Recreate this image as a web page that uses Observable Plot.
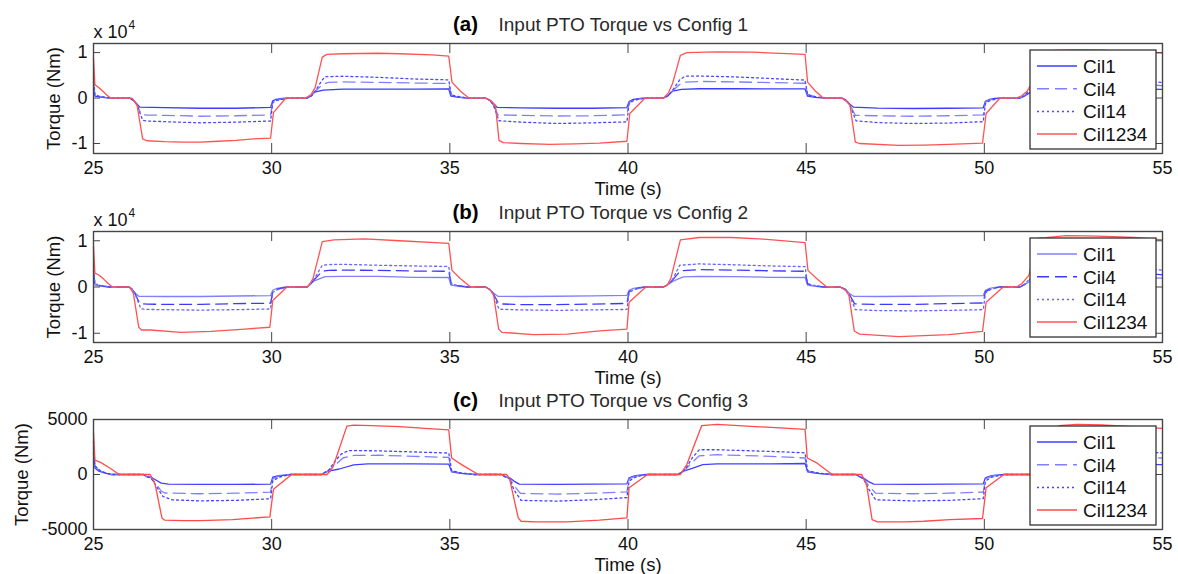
<!DOCTYPE html>
<html>
<head>
<meta charset="utf-8">
<script src="https://cdn.jsdelivr.net/npm/d3@7"></script>
<script src="https://cdn.jsdelivr.net/npm/@observablehq/plot@0.6"></script>
<style>
  body { margin: 0; background: #fff; }
  #chart { position: relative; width: 1178px; height: 574px; font-family: "Liberation Sans", Arial, sans-serif; }
  #chart svg { position: absolute; left: 0; overflow: visible; }
</style>
</head>
<body>
<div id="chart"></div>
<script>
// Time ticks (s) and series names
const timeTicks = [25, 30, 35, 40, 45, 50, 55];
const seriesNames = ["Cil1", "Cil4", "Cil14", "Cil1234"];

// ---- Config 1: [time s, torque Nm] ----
const a_cil1 = [
  [25.0,2000],[25.04,400],[25.15,250],[25.3,100],[25.48,0],
  [26.0,0],[26.12,-500],[26.22,-1300],[26.3,-2000],[27.0,-2100],[28.0,-2250],[29.0,-2250],[29.97,-2050],
  [30.03,-600],[30.12,-300],[30.3,-100],[30.45,0],
  [31.0,0],[31.1,400],[31.2,1300],[31.45,1750],[32.0,1950],[33.0,1950],[34.0,1950],[34.97,2000],
  [35.03,400],[35.25,150],[35.5,0],
  [36.0,0],[36.12,-500],[36.22,-1300],[36.33,-2050],[37.0,-2150],[38.0,-2250],[39.0,-2250],[39.97,-2100],
  [40.03,-800],[40.15,-300],[40.35,-100],[40.5,0],
  [41.0,0],[41.12,500],[41.25,1500],[41.5,1900],[42.0,2050],[43.0,2050],[44.0,2000],[44.97,2000],
  [45.04,400],[45.25,150],[45.5,0],
  [46.0,0],[46.12,-500],[46.22,-1300],[46.33,-2000],[47.0,-2200],[48.0,-2300],[49.0,-2250],[49.97,-2150],
  [50.03,-700],[50.15,-300],[50.3,-100],[50.45,0],
  [51.0,0],[51.1,300],[51.3,1300],[51.6,1800],[52.0,2000],[54.0,2000],[55.0,1900]
];
const a_cil4 = [
  [25.0,3500],[25.04,600],[25.2,300],[25.48,0],
  [26.0,0],[26.12,-500],[26.22,-1500],[26.34,-3600],[26.5,-3750],[27.0,-3800],[28.0,-4000],[29.0,-3900],[29.97,-3700],
  [30.03,-900],[30.15,-400],[30.35,-100],[30.5,0],
  [31.0,0],[31.12,500],[31.22,1500],[31.45,3100],[31.6,3450],[32.0,3550],[33.0,3450],[34.0,3300],[34.97,3200],
  [35.04,700],[35.2,300],[35.5,0],
  [36.0,0],[36.12,-500],[36.22,-1400],[36.35,-3700],[37.0,-3800],[38.0,-3950],[39.0,-3900],[39.97,-3700],
  [40.03,-1000],[40.15,-500],[40.35,-150],[40.5,0],
  [41.0,0],[41.12,500],[41.25,1600],[41.45,3000],[41.6,3500],[42.0,3650],[43.0,3550],[44.0,3400],[44.97,3250],
  [45.04,800],[45.2,400],[45.5,0],
  [46.0,0],[46.12,-500],[46.22,-1400],[46.38,-3800],[47.0,-3900],[48.0,-4000],[49.0,-3900],[49.97,-3700],
  [50.03,-900],[50.15,-400],[50.35,-100],[50.45,0],
  [51.0,0],[51.12,500],[51.3,1800],[51.6,3200],[52.0,3500],[54.0,3300],[55.0,2700]
];
const a_cil14 = [
  [25.0,4500],[25.04,700],[25.2,300],[25.48,0],
  [26.0,0],[26.12,-500],[26.22,-1500],[26.38,-4900],[26.5,-5050],[27.0,-5200],[28.0,-5450],[29.0,-5300],[29.97,-5050],
  [30.03,-1000],[30.15,-500],[30.35,-200],[30.5,0],
  [31.0,0],[31.12,500],[31.22,1500],[31.42,4000],[31.5,4700],[32.0,4800],[33.0,4550],[34.0,4200],[34.97,4000],
  [35.04,700],[35.2,400],[35.5,0],
  [36.0,0],[36.12,-500],[36.22,-1500],[36.38,-5000],[37.0,-5300],[38.0,-5600],[39.0,-5450],[39.97,-5250],
  [40.03,-1200],[40.15,-600],[40.35,-200],[40.5,0],
  [41.0,0],[41.12,500],[41.25,1700],[41.45,4000],[41.6,4800],[42.0,4850],[43.0,4650],[44.0,4300],[44.97,3950],
  [45.04,700],[45.2,400],[45.5,0],
  [46.0,0],[46.12,-500],[46.22,-1500],[46.4,-5000],[47.0,-5400],[48.0,-5600],[49.0,-5500],[49.97,-5200],
  [50.03,-1200],[50.15,-600],[50.35,-200],[50.45,0],
  [51.0,0],[51.12,500],[51.3,2000],[51.6,4500],[52.0,4800],[54.0,4300],[55.0,3400]
];
const a_cil1234 = [
  [25.0,8700],[25.04,2900],[25.12,2500],[25.25,1600],[25.38,600],[25.48,0],
  [26.08,0],[26.13,-500],[26.22,-1500],[26.38,-9000],[26.5,-9400],[27.0,-9600],[27.5,-9700],[28.0,-9700],[28.5,-9500],[29.0,-9300],[29.5,-9000],[29.97,-8800],
  [30.05,-3200],[30.4,0],
  [30.95,0],[31.1,700],[31.22,2300],[31.42,9000],[31.55,9600],[32.0,9750],[33.0,9850],[33.6,9750],[34.5,9500],[34.97,9200],
  [35.06,3500],[35.3,1500],[35.53,0],
  [36.0,0],[36.14,-500],[36.28,-1600],[36.38,-9300],[36.5,-9800],[37.0,-10000],[37.8,-10200],[38.5,-10100],[39.2,-9900],[39.97,-9500],
  [40.05,-3400],[40.48,0],
  [41.0,0],[41.14,1200],[41.25,3200],[41.47,9400],[41.65,10000],[42.5,10150],[43.5,10100],[44.1,9900],[44.97,9600],
  [45.04,3500],[45.25,1600],[45.48,0],
  [46.0,0],[46.14,-800],[46.23,-1600],[46.38,-9700],[46.5,-10000],[47.6,-10400],[48.3,-10350],[49.0,-10200],[49.95,-9900],
  [50.05,-3400],[50.44,0],
  [50.9,0],[51.05,500],[51.2,1500],[51.32,3200],[51.5,9400],[51.7,10200],[52.0,10500],[52.6,10600],[53.3,10550],[53.5,10450],[54.5,10100],[55.0,9900]
];

// ---- Config 2 ----
const b_cil1 = [
  [25.0,2500],[25.04,400],[25.15,250],[25.3,100],[25.45,0],
  [26.0,0],[26.08,-400],[26.15,-1200],[26.27,-2000],[27.0,-2050],[28.0,-2050],[29.0,-1950],[29.97,-1850],
  [30.03,-700],[30.15,-300],[30.3,-100],[30.43,0],
  [31.0,0],[31.08,500],[31.16,1200],[31.5,2250],[32.0,2300],[33.0,2300],[34.0,2100],[34.97,2050],
  [35.03,400],[35.25,150],[35.5,0],
  [36.0,0],[36.12,-500],[36.22,-1300],[36.35,-2000],[37.0,-2050],[38.0,-2000],[39.0,-1900],[39.97,-1800],
  [40.03,-700],[40.15,-300],[40.35,-100],[40.5,0],
  [41.0,0],[41.12,500],[41.25,1200],[41.55,2200],[42.0,2300],[43.0,2250],[44.0,2100],[44.97,2050],
  [45.04,400],[45.25,150],[45.5,0],
  [45.95,0],[46.1,-500],[46.2,-1300],[46.33,-2000],[47.0,-2050],[48.0,-2000],[49.0,-1900],[49.97,-1850],
  [50.03,-700],[50.15,-300],[50.3,-100],[50.45,0],
  [51.0,0],[51.1,400],[51.3,1300],[51.6,2200],[52.0,2300],[54.0,2200],[55.0,1900]
];
const b_cil4 = [
  [25.0,3500],[25.04,600],[25.2,300],[25.45,0],
  [26.0,0],[26.08,-400],[26.15,-1200],[26.3,-3600],[26.5,-3700],[27.0,-3750],[28.0,-3750],[29.0,-3600],[29.97,-3500],
  [30.03,-1000],[30.15,-500],[30.35,-150],[30.45,0],
  [31.0,0],[31.08,500],[31.16,1300],[31.42,3400],[31.6,3600],[32.0,3650],[33.0,3600],[34.0,3450],[34.97,3400],
  [35.04,700],[35.2,300],[35.5,0],
  [36.0,0],[36.12,-500],[36.22,-1400],[36.37,-3650],[37.0,-3800],[38.0,-3800],[39.0,-3700],[39.97,-3550],
  [40.03,-1000],[40.15,-500],[40.35,-150],[40.5,0],
  [41.0,0],[41.12,500],[41.25,1500],[41.47,3500],[42.0,3750],[43.0,3650],[44.0,3500],[44.97,3400],
  [45.04,700],[45.2,300],[45.5,0],
  [45.95,0],[46.1,-500],[46.2,-1400],[46.36,-3650],[47.0,-3750],[48.0,-3750],[49.0,-3600],[49.97,-3450],
  [50.03,-1000],[50.15,-500],[50.35,-150],[50.45,0],
  [51.0,0],[51.12,500],[51.3,1800],[51.6,3400],[52.0,3600],[54.0,3400],[55.0,2600]
];
const b_cil14 = [
  [25.0,4800],[25.04,700],[25.2,300],[25.45,0],
  [26.0,0],[26.08,-400],[26.15,-1200],[26.33,-4700],[26.5,-4850],[27.0,-4900],[28.0,-5000],[29.0,-4900],[29.97,-4750],
  [30.03,-1200],[30.15,-600],[30.35,-200],[30.45,0],
  [31.0,0],[31.08,500],[31.16,1300],[31.42,4700],[31.6,4850],[32.0,4900],[33.0,4700],[34.0,4550],[34.97,4450],
  [35.04,700],[35.2,400],[35.5,0],
  [36.0,0],[36.12,-500],[36.22,-1500],[36.38,-4800],[37.0,-4950],[38.0,-5050],[39.0,-4950],[39.97,-4850],
  [40.03,-1300],[40.15,-600],[40.35,-200],[40.5,0],
  [41.0,0],[41.12,500],[41.25,1600],[41.45,4700],[42.0,5000],[43.0,4800],[44.0,4550],[44.97,4400],
  [45.04,700],[45.2,400],[45.5,0],
  [45.95,0],[46.1,-500],[46.2,-1500],[46.38,-4900],[47.0,-5100],[48.0,-5150],[49.0,-5050],[49.97,-4900],
  [50.03,-1300],[50.15,-600],[50.35,-200],[50.45,0],
  [51.0,0],[51.12,500],[51.3,2000],[51.6,4600],[52.0,4900],[54.0,4600],[55.0,3600]
];
const b_cil1234 = [
  [25.0,8700],[25.04,3000],[25.15,2600],[25.3,1600],[25.42,700],[25.53,0],
  [26.0,0],[26.07,-700],[26.12,-1450],[26.27,-8700],[26.35,-9300],[26.6,-9300],[27.45,-9800],[28.3,-9600],[29.25,-9100],[29.95,-8700],
  [30.03,-2900],[30.43,0],
  [31.0,0],[31.07,700],[31.16,1800],[31.42,9800],[31.75,10200],[32.6,10400],[33.6,10000],[34.97,9450],
  [35.06,3600],[35.3,1800],[35.58,0],
  [36.0,0],[36.14,-700],[36.23,-1800],[36.37,-9100],[36.46,-9800],[37.35,-10300],[38.3,-10200],[39.2,-9500],[39.97,-9100],
  [40.03,-3300],[40.5,0],
  [41.0,0],[41.1,400],[41.2,1800],[41.47,10200],[42.0,10700],[42.9,10700],[43.9,10300],[44.97,9600],
  [45.05,3600],[45.3,1800],[45.58,0],
  [45.95,0],[46.1,-700],[46.2,-1800],[46.35,-9500],[46.5,-10200],[47.6,-10750],[49.0,-10300],[49.95,-9600],
  [50.05,-3300],[50.53,0],
  [50.9,0],[51.05,700],[51.25,2500],[51.5,10500],[52.3,11100],[53.2,11000],[54.2,10700],[55.0,10200]
];

// ---- Config 3 ----
const c_cil1 = [
  [25.0,2000],[25.04,600],[25.15,300],[25.3,150],[25.5,0],
  [26.4,0],[26.5,-200],[26.62,-250],[26.75,-500],[26.9,-780],[27.1,-880],[28.0,-900],[29.0,-900],[29.97,-880],
  [30.03,-250],[30.2,-100],[30.56,0],
  [31.4,0],[31.5,200],[31.6,300],[31.9,500],[32.3,880],[32.7,970],[34.0,970],[34.97,950],
  [35.05,250],[35.3,100],[35.7,0],
  [36.45,0],[36.55,-200],[36.68,-300],[36.8,-600],[36.95,-880],[38.0,-900],[39.0,-880],[39.97,-850],
  [40.03,-300],[40.2,-100],[40.55,0],
  [41.4,0],[41.5,200],[41.56,300],[41.8,550],[42.1,900],[42.5,970],[44.0,970],[44.97,1000],
  [45.04,250],[45.3,100],[45.7,0],
  [46.4,0],[46.5,-200],[46.6,-300],[46.75,-650],[46.9,-880],[48.0,-900],[49.0,-880],[49.97,-850],
  [50.03,-300],[50.2,-100],[50.55,0],
  [51.4,0],[51.5,200],[51.7,450],[52.2,900],[52.6,970],[55.0,900]
];
const c_cil4 = [
  [25.0,2500],[25.04,700],[25.2,300],[25.5,0],
  [26.4,0],[26.5,-200],[26.62,-300],[26.75,-800],[26.9,-1500],[27.0,-1680],[28.0,-1750],[29.0,-1700],[29.97,-1600],
  [30.03,-400],[30.2,-150],[30.56,0],
  [31.4,0],[31.5,200],[31.6,350],[31.8,900],[32.0,1500],[32.3,1730],[33.0,1750],[34.0,1650],[34.97,1550],
  [35.05,300],[35.3,150],[35.7,0],
  [36.45,0],[36.55,-200],[36.68,-350],[36.8,-1000],[36.98,-1720],[38.0,-1780],[39.0,-1700],[39.97,-1580],
  [40.03,-400],[40.2,-150],[40.55,0],
  [41.4,0],[41.5,200],[41.6,400],[41.8,1100],[42.0,1700],[42.5,1800],[44.0,1650],[44.97,1500],
  [45.04,300],[45.3,150],[45.7,0],
  [46.4,0],[46.5,-200],[46.62,-400],[46.75,-1000],[46.95,-1700],[48.0,-1750],[49.0,-1700],[49.97,-1600],
  [50.03,-400],[50.2,-150],[50.55,0],
  [51.4,0],[51.5,200],[51.8,1000],[52.1,1700],[52.6,1750],[55.0,1500]
];
const c_cil14 = [
  [25.0,3000],[25.04,800],[25.2,300],[25.5,0],
  [26.4,0],[26.5,-200],[26.62,-350],[26.75,-1000],[26.95,-2000],[27.2,-2300],[28.0,-2400],[29.0,-2350],[29.97,-2200],
  [30.03,-600],[30.2,-250],[30.5,0],
  [31.4,0],[31.5,200],[31.6,400],[31.8,1300],[31.95,1850],[32.15,2180],[33.0,2150],[34.0,2050],[34.97,1950],
  [35.05,350],[35.3,150],[35.7,0],
  [36.45,0],[36.55,-200],[36.68,-400],[36.8,-1400],[37.0,-2350],[38.0,-2420],[39.0,-2300],[39.97,-2100],
  [40.03,-600],[40.2,-250],[40.5,0],
  [41.4,0],[41.5,200],[41.6,450],[41.8,1500],[42.0,2250],[42.5,2250],[44.0,2100],[44.97,1970],
  [45.04,350],[45.3,150],[45.7,0],
  [46.4,0],[46.5,-200],[46.62,-450],[46.75,-1300],[46.95,-2300],[48.0,-2400],[49.0,-2350],[49.97,-2200],
  [50.03,-600],[50.2,-250],[50.55,0],
  [51.4,0],[51.5,200],[51.8,1400],[52.1,2200],[52.6,2250],[55.0,1970]
];
const c_cil1234 = [
  [25.0,3800],[25.04,1300],[25.2,1100],[25.5,500],[25.72,0],
  [26.59,0],[26.64,-300],[26.73,-900],[26.92,-3950],[27.0,-4150],[27.5,-4200],[28.0,-4200],[28.9,-4100],[29.95,-3850],
  [30.05,-1350],[30.56,0],
  [31.55,0],[31.64,300],[31.73,750],[32.11,4400],[32.3,4480],[32.8,4450],[33.6,4350],[34.3,4200],[34.97,4050],
  [35.05,1500],[35.33,900],[35.8,0],
  [36.59,0],[36.63,-150],[36.68,-450],[36.92,-3950],[37.0,-4250],[37.4,-4300],[38.3,-4300],[39.2,-4150],[39.97,-3950],
  [40.03,-1200],[40.55,0],
  [41.47,0],[41.56,450],[41.65,900],[42.07,4450],[42.5,4550],[43.9,4300],[44.97,4100],
  [45.03,1500],[45.3,1050],[45.73,0],
  [46.56,0],[46.6,-300],[46.7,-1000],[46.85,-4100],[47.0,-4300],[47.8,-4300],[48.3,-4250],[49.03,-4100],[49.95,-4000],
  [50.05,-1200],[50.55,0],
  [51.5,0],[51.6,400],[51.7,900],[52.1,4450],[52.6,4550],[53.3,4500],[55.0,4200]
];

// Y ticks per panel
const yTicksAB = [-10000, 0, 10000];
const yTicksC = [-5000, 0, 5000];

// ---- layout / style ----
const W = 1178, ML = 93, MR = 16;
const FONT = "Liberation Sans, Arial, sans-serif";
const dashes = [null, "12,6", "2,3", null];
const INK = "#111";
const AXIS = "#454545";

const panels = [
  { tag: "(a)", title: "Input PTO Torque vs Config 1", series: [a_cil1, a_cil4, a_cil14, a_cil1234],
    yDomain: [-12200, 12000], yTicks: yTicksAB, fmt: d => String(d / 1e4), exponent: true,
    top: 0, height: 192, mt: 43, mb: 39, ylabDx: -39,
    colors: ["#3b3bff", "#8080ff", "#4a4aff", "#ff5353"] },
  { tag: "(b)", title: "Input PTO Torque vs Config 2", series: [b_cil1, b_cil4, b_cil14, b_cil1234],
    yDomain: [-12000, 12000], yTicks: yTicksAB, fmt: d => String(d / 1e4), exponent: true,
    top: 192, height: 188, mt: 39, mb: 38, ylabDx: -39,
    colors: ["#8080ff", "#3b3bff", "#6464ff", "#ff5353"] },
  { tag: "(c)", title: "Input PTO Torque vs Config 3", series: [c_cil1, c_cil4, c_cil14, c_cil1234],
    yDomain: [-5000, 5000], yTicks: yTicksC, fmt: d => String(d), exponent: false,
    top: 380, height: 194, mt: 39, mb: 45, ylabDx: -71,
    colors: ["#4040ff", "#8080ff", "#4444ff", "#ff4a4a"] }
];

const chart = document.getElementById("chart");

for (const p of panels) {
  const frameH = p.height - p.mt - p.mb;
  const frameW = W - ML - MR;
  const frameCx = ML + frameW / 2;

  const marks = [
    // series lines
    ...p.series.map((pts, i) => Plot.line(pts, {
      x: d => d[0], y: d => d[1],
      stroke: p.colors[i], strokeWidth: 1.3, strokeDasharray: dashes[i]
    })),
    // inward tick marks on all four sides
    Plot.tickX(timeTicks, { x: d => d, insetBottom: frameH - 10, stroke: AXIS }),
    Plot.tickX(timeTicks, { x: d => d, insetTop: frameH - 10, stroke: AXIS }),
    Plot.tickY(p.yTicks, { y: d => d, insetRight: frameW - 7, stroke: AXIS }),
    Plot.tickY(p.yTicks, { y: d => d, insetLeft: frameW - 7, stroke: AXIS }),
    Plot.frame({ stroke: AXIS, strokeWidth: 1.4 }),
    // tick labels
    Plot.axisX({ ticks: timeTicks, tickSize: 0, tickPadding: 8, fontSize: 18, label: null, fill: INK }),
    Plot.axisY({ ticks: p.yTicks, tickSize: 0, tickPadding: 6, fontSize: 18, label: null, tickFormat: p.fmt, fill: INK }),
    // axis titles
    Plot.text(["Time (s)"], { text: d => d, frameAnchor: "bottom", dy: 41, lineAnchor: "bottom", fontSize: 18.5, fill: INK }),
    Plot.text(["Torque (Nm)"], { text: d => d, frameAnchor: "left", rotate: -90, dx: p.ylabDx,
      textAnchor: "middle", lineAnchor: "middle", fontSize: 18.5, fill: INK }),
    // panel title
    Plot.text([p.tag], { text: d => d, frameAnchor: "top", dx: 465 - frameCx, dy: -13,
      lineAnchor: "bottom", textAnchor: "middle", fontSize: 20.5, fontWeight: "bold", fill: "#000" }),
    Plot.text([p.title], { text: d => d, frameAnchor: "top", dx: 498 - frameCx, dy: -13,
      lineAnchor: "bottom", textAnchor: "start", fontSize: 19, fill: "#2a2a2a" })
  ];
  if (p.exponent) {
    marks.push(
      Plot.text(["x 10"], { text: d => d, frameAnchor: "top-left", dy: -6, lineAnchor: "bottom",
        textAnchor: "start", fontSize: 18, fill: INK }),
      Plot.text(["4"], { text: d => d, frameAnchor: "top-left", dx: 35, dy: -15, lineAnchor: "bottom",
        textAnchor: "start", fontSize: 12, fill: INK })
    );
  }

  const svg = Plot.plot({
    width: W, height: p.height,
    marginLeft: ML, marginRight: MR, marginTop: p.mt, marginBottom: p.mb,
    x: { domain: [25, 55] },
    y: { domain: p.yDomain },
    style: { fontFamily: FONT, background: "transparent", overflow: "visible" },
    marks
  });
  svg.style.top = p.top + "px";

  // legend box, top-right inside the frame
  const lw = 126, lh = 99;
  const lx = W - MR - 6 - lw, ly = p.mt + 7;
  const g = d3.select(svg).append("g")
    .attr("font-family", FONT).attr("text-anchor", "start");
  g.append("rect").attr("x", lx).attr("y", ly).attr("width", lw).attr("height", lh)
    .attr("fill", "white").attr("stroke", "#333").attr("stroke-width", 1.3);
  seriesNames.forEach((name, i) => {
    const cy = ly + 16 + i * 22.7;
    g.append("line").attr("x1", lx + 7).attr("x2", lx + 47).attr("y1", cy).attr("y2", cy)
      .attr("stroke", p.colors[i]).attr("stroke-width", 1.5)
      .attr("stroke-dasharray", dashes[i]);
    g.append("text").attr("x", lx + 53).attr("y", cy).attr("dy", "0.36em")
      .attr("text-anchor", "start")
      .attr("font-size", 19).attr("fill", INK).text(name);
  });

  chart.appendChild(svg);
}
</script>
</body>
</html>
